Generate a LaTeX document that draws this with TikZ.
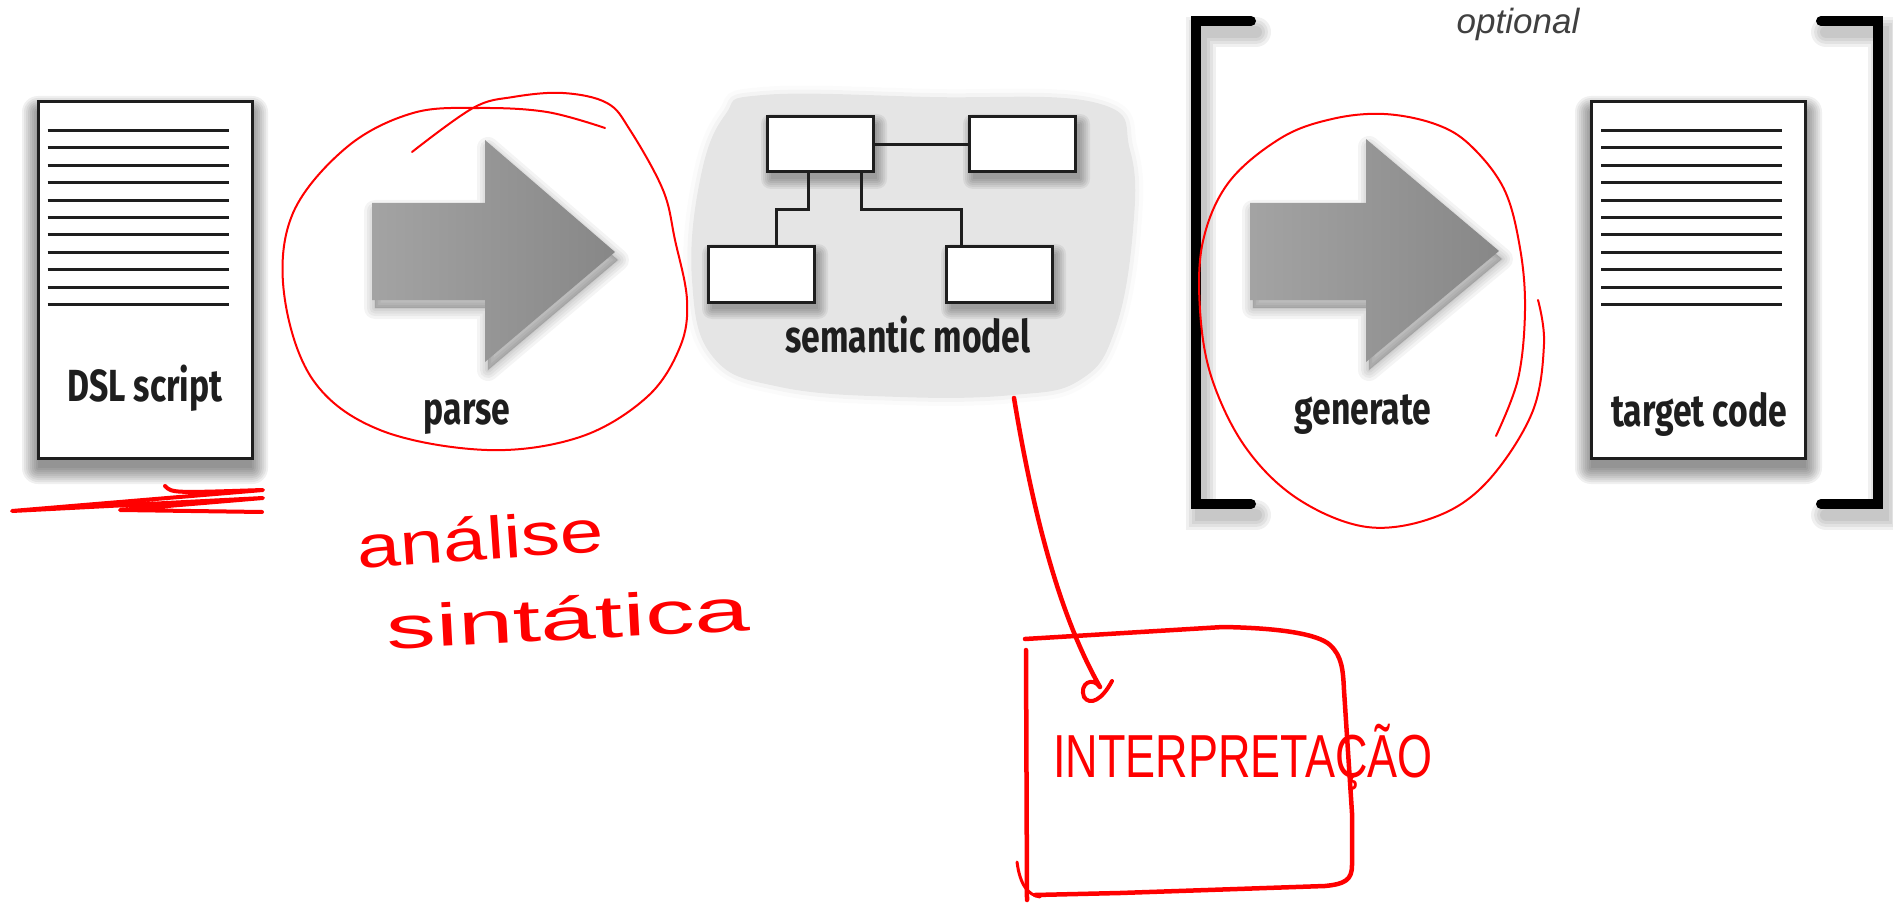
\documentclass[tikz,border=0pt]{standalone}
\usepackage{fontspec}
\usepackage{graphicx}
\usetikzlibrary{calc}

\newfontfamily\labelfont[FakeStretch=0.75]{Fira Sans}
\newfontfamily\notefont{Liberation Sans}
\newfontfamily\handfont{Liberation Sans}

\definecolor{ink}{HTML}{1E1E1E}
\definecolor{blobgray}{HTML}{E5E5E5}
\definecolor{penred}{HTML}{FF0000}

% soft drop shadow behind a rectangle: x1, y1, x2, y2, x offset, y offset, spread
\newcommand{\softdrop}[7]{%
  \foreach \r in {0,2,...,#7}
    \fill[black, opacity=0.06, rounded corners=\r pt]
      (#1+#5-\r,#2+#6-\r) rectangle (#3+#5+\r,#4+#6+\r);}

\tikzset{
  docbox/.style={draw=ink, line width=3pt, fill=white, minimum width=214pt,
    minimum height=356pt, inner sep=0pt},
  docline/.style={draw=ink, line width=3pt},
  umlbox/.style={draw=ink, line width=3pt, fill=white, minimum width=106pt,
    minimum height=55pt, inner sep=0pt},
  umlline/.style={draw=ink, line width=3pt},
  lbl/.style={font=\labelfont\bfseries\fontsize{45}{54}\selectfont, text=ink, inner sep=0pt},
  bigarrow/.style={left color=black!36, right color=black!47, draw=none},
  arrowshade/.style={fill=black, draw=black, opacity=0.045, line join=round},
  bracketline/.style={draw=black, line width=10pt, line cap=round, line join=miter},
  bracketshade/.style={draw=black, line cap=round, opacity=0.06},
  redpen/.style={draw=penred, line cap=round, line join=round},
  redtext/.style={font=\handfont\fontsize{60}{60}\selectfont, text=penred, inner sep=0pt},
}

\begin{document}
\begin{tikzpicture}[x=1pt, y=-1pt]
\useasboundingbox (0,0) rectangle (1893,904);

% ---------- input script ----------
\softdrop{38}{102}{252}{458}{0}{10}{16}
\node[docbox] (dsl) at (145,280) {};
\foreach \k in {0,...,10}
  \draw[docline] ($(dsl.north west)+(11,30+17.4*\k)$) -- ($(dsl.north east)+(-25,30+17.4*\k)$);
\node[lbl] (dsltext) at (145,388) {DSL script};

% ---------- parse arrow ----------
\foreach \w in {22,16,11,6,2}
  \filldraw[arrowshade, line width=\w pt, shift={(3,8)}]
    (372,203) -- (485,203) -- (485,140) -- (615,252) -- (485,362) -- (485,300) -- (372,300) -- cycle;
\path[bigarrow] (372,203) -- (485,203) -- (485,140) -- (615,252) -- (485,362) -- (485,300) -- (372,300) -- cycle;
\node[lbl] (parse) at (467,417) {parse};

% ---------- semantic model ----------
\foreach \w/\o in {16/0.15, 8/0.3}
  \draw[blobgray, line width=\w pt, opacity=\o] plot[smooth cycle, tension=0.7] coordinates
    {(763,95) (930,97) (1097,103) (1130,150) (1133,230) (1115,330) (1080,380) (1013,395) (900,397) (780,387) (713,357) (692,280) (700,180) (725,115)};
\fill[blobgray] plot[smooth cycle, tension=0.7] coordinates
  {(763,95) (930,97) (1097,103) (1130,150) (1133,230) (1115,330) (1080,380) (1013,395) (900,397) (780,387) (713,357) (692,280) (700,180) (725,115)};
\coordinate (blobfoot) at (1014,398);

\softdrop{767}{117}{873}{172}{4}{7}{10}
\softdrop{969}{117}{1076}{172}{4}{7}{10}
\softdrop{708}{247}{814}{302}{4}{7}{10}
\softdrop{947}{247}{1052}{302}{4}{7}{10}
\node[umlbox] (ma) at (820,144.5) {};
\node[umlbox] (mb) at (1022.5,144.5) {};
\node[umlbox] (mc) at (761,274.5) {};
\node[umlbox] (md) at (999.5,274.5) {};
\draw[umlline] (ma.east) -- (mb.west);
\draw[umlline] ([xshift=-12pt]ma.south) -- ++(0,36) -| ([xshift=15pt]mc.north);
\draw[umlline] ([xshift=41pt]ma.south) -- ++(0,36) -| ([xshift=-38pt]md.north);
\node[lbl] (semtext) at (908,335) {semantic model};

% ---------- optional part ----------
\foreach \w in {30,24,18,12}
  \draw[bracketshade, line width=\w pt, shift={(5,11)}] (1251,21) -- (1196,21) -- (1196,504) -- (1251,504);
\foreach \w in {30,24,18,12}
  \draw[bracketshade, line width=\w pt, shift={(5,11)}] (1821,21) -- (1878,21) -- (1878,504) -- (1821,504);
\draw[bracketline] (1251,21) -- (1196,21) -- (1196,504) -- (1251,504);
\draw[bracketline] (1821,21) -- (1878,21) -- (1878,504) -- (1821,504);
\node[font=\notefont\itshape\fontsize{35}{40}\selectfont, text=black!75, inner sep=0pt] (optional) at (1518,24) {optional};

\foreach \w in {22,16,11,6,2}
  \filldraw[arrowshade, line width=\w pt, shift={(3,8)}]
    (1250,203) -- (1366,203) -- (1366,139) -- (1499,251) -- (1366,362) -- (1366,300) -- (1250,300) -- cycle;
\path[bigarrow] (1250,203) -- (1366,203) -- (1366,139) -- (1499,251) -- (1366,362) -- (1366,300) -- (1250,300) -- cycle;
\node[lbl] (generate) at (1363,415) {generate};

\softdrop{1591}{102}{1806}{458}{0}{10}{16}
\node[docbox] (target) at (1698.5,280) {};
\foreach \k in {0,...,10}
  \draw[docline] ($(target.north west)+(11,30+17.4*\k)$) -- ($(target.north east)+(-25,30+17.4*\k)$);
\node[lbl] (targettext) at (1699,414) {target code};

% ---------- red annotations ----------
% scribbled underline below the script
\draw[redpen, line width=4pt] (165,486) .. controls (172,493) .. (263,490) -- (12,511) -- (263,498) -- (120,510) -- (262,512);

% loop round the parse step
\draw[redpen, line width=2pt] plot[smooth, tension=0.6] coordinates
  {(605,128) (547,112) (480,108) (413,113) (347,147) (293,213) (284,293) (313,380) (380,430) (487,450) (580,437) (647,397) (680,347) (687,300) (675,240) (663,190) (630,130) (607,103) (563,93) (513,97) (473,108) (412,152)};
\node[redtext, rotate=4] (analise) at (480,538) {\scalebox{1.3}[1]{análise}};
\node[redtext, rotate=3] (sintatica) at (568,618) {\scalebox{1.65}[1]{sintática}};

% loop round the generate step
\draw[redpen, line width=2pt] plot[smooth, tension=0.6] coordinates
  {(1496,436) (1518,379) (1525,310) (1520,248) (1504,189) (1470,145) (1435,124) (1384,114) (1332,119) (1281,138) (1229,182) (1203,241) (1200,310) (1212,379) (1246,448) (1298,499) (1367,527) (1435,517) (1487,482) (1532,413) (1544,344) (1538,300)};

% interpretation box and the stroke leading into it
\coordinate (hook) at (1100,687);
\draw[redpen, line width=4.5pt] (blobfoot) .. controls (1035,525) and (1062,620) .. (hook);
\draw[redpen, line width=4pt] (hook) .. controls (1092,676) and (1079,684) .. (1084,697)
  .. controls (1090,706) and (1102,700) .. (1112,681);
\draw[redpen, line width=4.5pt] (1025,639) -- (1223,627) .. controls (1280,628) and (1318,634) .. (1330,645)
  .. controls (1342,656) and (1343,670) .. (1344,690) -- (1352,813) -- (1352,865)
  .. controls (1352,880) and (1345,884) .. (1325,886) -- (1120,893) -- (1035,895);
\draw[redpen, line width=4.5pt] (1026,650) -- (1027,900);
\draw[redpen, line width=3pt] (1017,862) .. controls (1020,885) and (1028,895) .. (1040,897);
\node[redtext] (interp) at (1243,757) {\scalebox{1}[1.35]{\fontsize{45}{45}\selectfont INTERPRETAÇÃO}};

\end{tikzpicture}
\end{document}
